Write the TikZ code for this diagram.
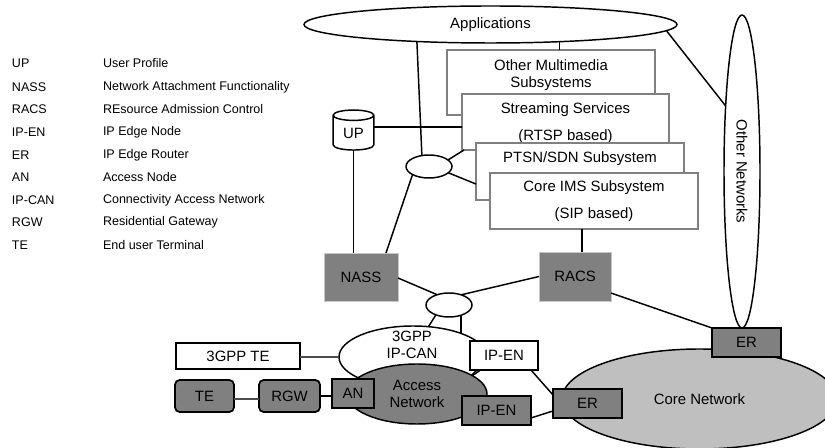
\documentclass[tikz,border=0pt]{standalone}
\usepackage{fontspec}
\usepackage{graphicx}
\setmainfont{Liberation Sans}
\usetikzlibrary{shapes.geometric}
\definecolor{dk}{gray}{0.5}
\definecolor{lt}{gray}{0.75}
\tikzset{
  every node/.style={inner sep=0pt,outer sep=0pt,font=\fontsize{11.2}{13}\selectfont,text=black},
  conn/.style={draw=black,line width=1.1pt},
  softconn/.style={draw=black!70,line width=1pt},
  netell/.style={ellipse,draw=black,line width=1.1pt,fill=white},
  subbox/.style={rectangle,draw=black!50,line width=1.2pt,fill=white,align=center},
  func/.style={rectangle,draw=black!22,line width=.7pt,fill=dk},
  plainbox/.style={rectangle,draw=black,line width=1.3pt,fill=white},
  darkbox/.style={rectangle,draw=black,line width=1.3pt,fill=dk},
  roundbox/.style={darkbox,rounded corners=3.5pt},
  legend/.style={anchor=west,font=\fontsize{9.4}{11}\selectfont},
  sz/.style n args={2}{minimum width=#1*.75pt,minimum height=#2*.75pt},
}
\begin{document}
\begin{tikzpicture}[x=.75pt,y=-.75pt]
\clip (0,0) rectangle (825,448);
% legend
\foreach \n/\a/\b/\y in {k1/UP/User Profile/63,k2/NASS/Network Attachment Functionality/87,k3/RACS/REsource Admission Control/109,k4/IP-EN/IP Edge Node/132,k5/ER/IP Edge Router/155,k6/AN/Access Node/177,k7/IP-CAN/Connectivity Access Network/200,k8/RGW/Residential Gateway/222,k9/TE/End user Terminal/245}{
  \node[legend] (\n a) at (12,\y) {\a};
  \node[legend] (\n b) at (103,\y) {\b};
}
% upper part
\node[netell,sz={373}{37}] (apps) at (490.5,24.5) {Applications};
\node[netell,sz={36}{313}] (onet) at (742,171.5) {\rotatebox{-90}{Other Networks}};
\node[subbox,sz={208}{65}] (mm) at (551,82.5) {};
\node (mmt) at (551,75) [align=center] {Other Multimedia\\Subsystems};
\node[subbox,sz={207}{56}] (stream) at (565.5,122) {};
\node (streamt) at (565.5,110) {Streaming Services};
\node (streamu) at (565.5,137) {(RTSP based)};
\node[subbox,sz={208}{57}] (ptsn) at (580,171.5) {};
\node (ptsnt) at (580,159) {PTSN/SDN Subsystem};
\node[subbox,sz={208}{56}] (core) at (594,201) {};
\node (coret) at (594,188) {Core IMS Subsystem};
\node (coreu) at (594,215) {(SIP based)};
\node[cylinder,shape border rotate=90,shape aspect=0.5,draw=black,line width=1.1pt,fill=white,minimum width=30.5pt,minimum height=30pt] (up) at (353.5,133) {\raisebox{-3pt}{UP}};
\node[netell,sz={46}{23}] (hub) at (429,166.5) {};
\node[func,sz={74}{48}] (nass) at (361,277) {NASS};
\node[func,sz={72}{49}] (racs) at (575,276.5) {RACS};
\node[netell,sz={46}{24}] (hubb) at (449,305) {};
% access part
\node[netell,sz={148}{62}] (ipcan) at (413,357) {};
\node (ipcant) at (412,345) [align=center] {3GPP\\IP-CAN};
\node[netell,fill=dk,sz={140}{60},align=center] (access) at (417,394) {Access\\Network};
\node[netell,fill=lt,sz={275}{100}] (cnet) at (699.5,399) {Core Network};
\node[plainbox,sz={124}{26}] (gte) at (238,356) {3GPP TE\hspace{7pt}};
\node[roundbox,sz={59}{32}] (te) at (204.5,396) {TE};
\node[roundbox,sz={61}{32}] (rgw) at (289.5,396) {RGW};
\node[darkbox,sz={42}{29}] (an) at (353,393.5) {AN};
\node[plainbox,sz={68}{29}] (ipw) at (504,355.5) {IP-EN};
\node[darkbox,sz={69}{29}] (ipg) at (496.5,410.5) {IP-EN};
\node[darkbox,sz={69}{29}] (era) at (587.5,403.5) {ER};
\node[darkbox,sz={69}{29}] (erb) at (746.5,342.5) {ER};
% connectors
\draw[conn] (apps.193.2) -- (hub.123.7);
\draw[conn] (apps.-14.1) -- (apps.-14.1 |- mm.north);
\draw[conn] (apps.-2.35) -- (onet.104.3);
\draw[conn] ([yshift=4.5pt]up.east) -- ([yshift=4.5pt]up.east -| stream.west);
\draw[conn] (hub.19.3) -- ([xshift=-76.1pt]stream.south);
\draw[conn] (hub.-18.9) -- ([yshift=-9.4pt]ptsn.west);
\draw[conn] (hub.206.6) -- ([xshift=18.75pt]nass.north);
\draw[conn] (up.south) -- (up.south |- nass.north);
\draw[conn] ([xshift=-9pt]core.south) -- ([xshift=-9pt]core.south |- racs.north);
\draw[conn] ([yshift=-.75pt]nass.east) -- (hubb.139.4);
\draw[conn] (hubb.40.4) -- (racs.west);
\draw[conn] (hubb.217.6) -- (ipcan.63.8);
\draw[conn] (hubb.-40.4) -- (hubb.-40.4 |- ipcan.26.2);
\draw[conn] ([yshift=-12.4pt]racs.east) -- (erb.north west);
\draw[softconn] (gte.east |- ipcan.west) -- (ipcan.west);
\draw[softconn] ([yshift=-2.25pt]te.east) -- ([yshift=-2.25pt]te.east -| rgw.west);
\draw[conn] (rgw.east) -- (rgw.east -| an.west);
\draw[conn] ([xshift=-20.25pt]ipw.south) -- (access.19.4);
\draw[conn] ([xshift=20.25pt]ipw.south) -- ([yshift=6.4pt]era.west);
\draw[conn] ([yshift=-5.6pt]ipg.east) -- ([yshift=-5.6pt]era.west);
\end{tikzpicture}
\end{document}
